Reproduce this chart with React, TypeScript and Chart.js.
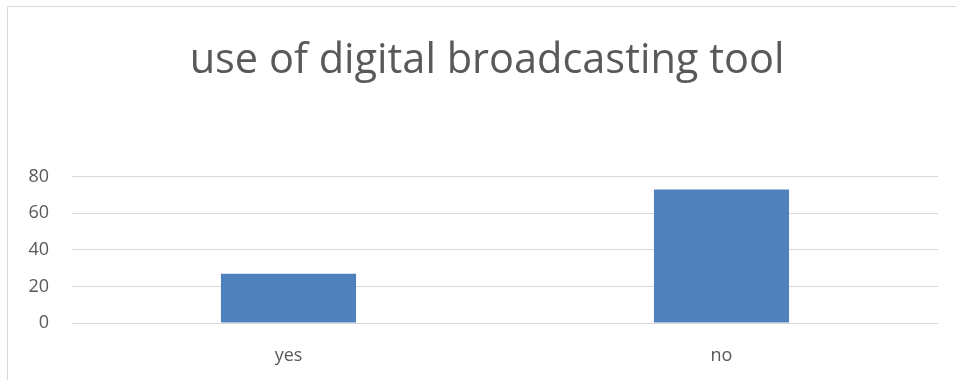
import React, { useEffect, useRef } from "react";
import { Chart, registerables } from "chart.js";

Chart.register(...registerables);

const titleText = "use of digital broadcasting tool";
const categories = ["yes", "no"];
const values = [27, 73];
const yTicks = [0, 20, 40, 60, 80];

const borderPlugin = {
  id: "outerBorder",
  beforeDraw(chart: any) {
    const ctx = chart.ctx;
    ctx.save();
    ctx.fillStyle = "#ffffff";
    ctx.fillRect(0, 0, chart.width, chart.height);
    ctx.strokeStyle = "#d9d9d9";
    ctx.lineWidth = 1;
    ctx.beginPath();
    ctx.moveTo(7.5, chart.height + 5);
    ctx.lineTo(7.5, 6.5);
    ctx.lineTo(chart.width + 5, 6.5);
    ctx.stroke();
    ctx.restore();
  },
  afterLayout(chart: any) {
    if (chart.titleBlock) {
      chart.titleBlock.left += 36;
    }
  },
};

export default function App() {
  const ref = useRef<HTMLCanvasElement | null>(null);
  useEffect(() => {
    if (!ref.current) return;
    const chart = new Chart(ref.current, {
      type: "bar",
      data: {
        labels: categories,
        datasets: [
          {
            data: values,
            backgroundColor: "#4f81bd",
            borderColor: "#4f81bd",
            borderWidth: 0,
            categoryPercentage: 0.312,
            barPercentage: 1,
          },
        ],
      },
      options: {
        responsive: false,
        animation: false,
        devicePixelRatio: 1,
        layout: { padding: { left: 0, right: 18, top: 0, bottom: 0 } },
        plugins: {
          legend: { display: false },
          tooltip: { enabled: false },
          title: {
            display: true,
            text: titleText,
            color: "#595959",
            font: { family: "Open Sans", size: 41.5, weight: "normal" },
            padding: { top: 36, bottom: 91 },
          },
        },
        scales: {
          x: {
            grid: { display: false, drawTicks: false },
            border: { display: false },
            ticks: {
              color: "#595959",
              font: { family: "Open Sans", size: 18 },
              padding: 22,
            },
            afterFit: (s: any) => {
              s.height = 57;
            },
          },
          y: {
            min: 0,
            max: 80,
            afterBuildTicks: (s: any) => {
              s.ticks = yTicks.map((v) => ({ value: v }));
            },
            grid: { color: "#d9d9d9", lineWidth: 1, drawTicks: false },
            border: { display: false },
            ticks: {
              color: "#595959",
              font: { family: "Open Sans", size: 18 },
              padding: 23,
            },
            afterFit: (s: any) => {
              s.width = 72;
            },
          },
        },
      },
      plugins: [borderPlugin],
    });
    return () => chart.destroy();
  }, []);
  return (
    <div style={{ position: "absolute", left: 0, top: 0, width: 956, height: 380 }}>
      <canvas ref={ref} width={956} height={380} style={{ display: "block" }} />
    </div>
  );
}
